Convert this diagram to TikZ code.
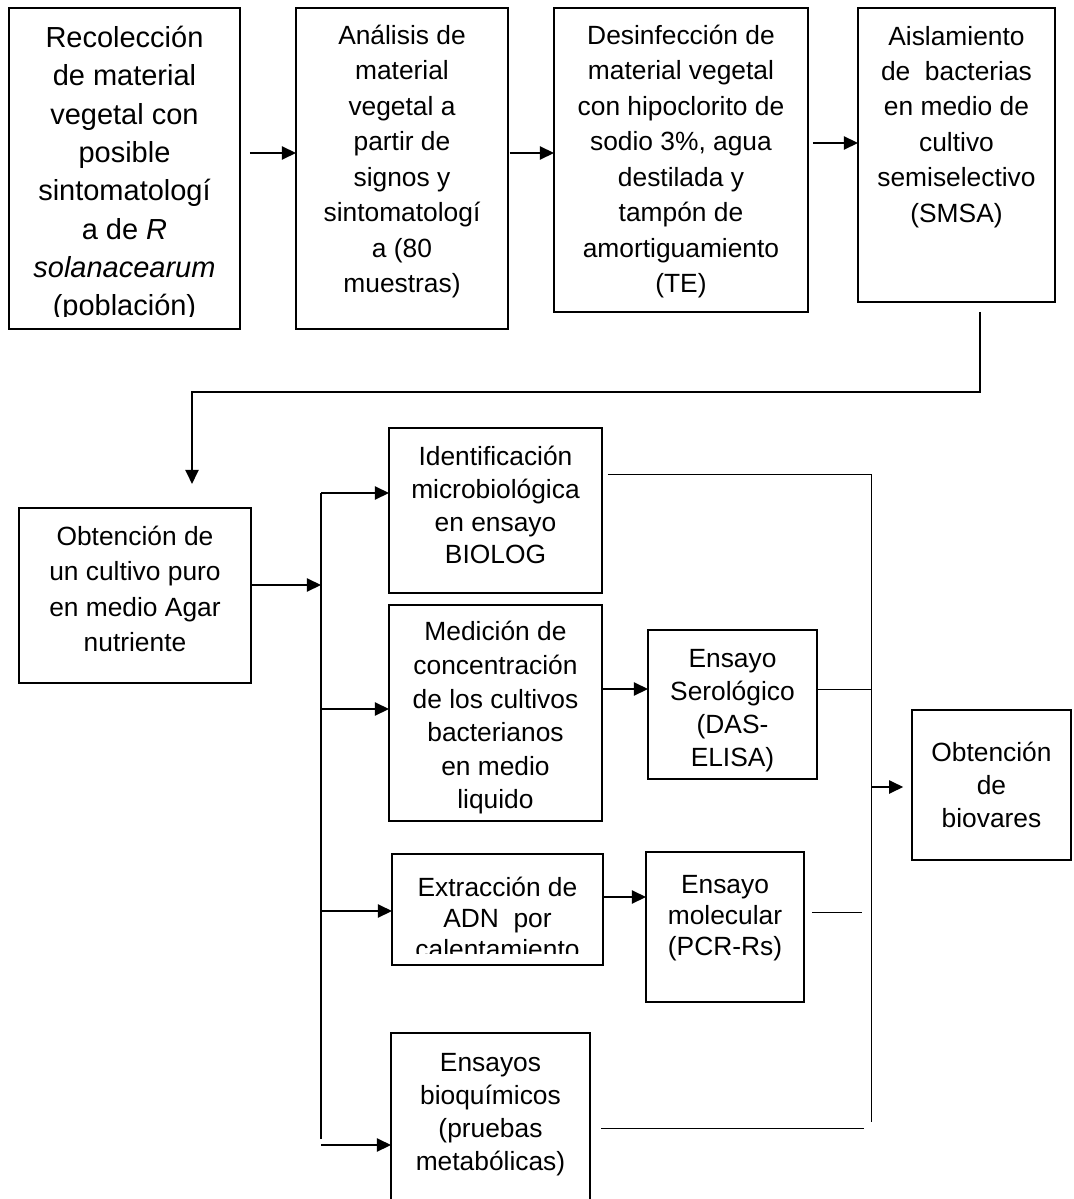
\documentclass[tikz,border=0pt]{standalone}
\usepackage{fontspec}
\setmainfont{Liberation Sans}
\usetikzlibrary{positioning,arrows.meta}

\tikzset{
  box/.style={draw, line width=1.3pt, rectangle, inner sep=0pt, outer sep=0pt, anchor=north west},
  txt/.style={align=center, inner sep=0pt, font=\fontsize{15}{20.2}\selectfont,
    execute at begin node={\rule{0pt}{14.5pt}}},
  txtsm/.style={txt, font=\fontsize{15}{18.7}\selectfont},
  txttight/.style={txt, font=\fontsize{15}{17.6}\selectfont},
  txtbig/.style={txt, font=\fontsize{16.5}{21.8}\selectfont,
    execute at begin node={\rule{0pt}{16pt}}},
  arr/.style={line width=0.85pt, -{Triangle[length=8pt,width=7.5pt]}},
  bus/.style={line width=0.7pt},
  lite/.style={line width=0.55pt},
}

\begin{document}
\begin{tikzpicture}[x=0.02cm, y=-0.02cm]
				\useasboundingbox (0,0) rectangle (1074,1199);
				% cajas
				\begin{scope}[every node/.style={box}]
					\node (b1)[minimum width=4.62cm, minimum height=6.42cm] at (9,8) {};
					\node (b2)[minimum width=4.24cm, minimum height=6.42cm] at (296,8) {};
					\node (b3)[minimum width=5.08cm, minimum height=6.08cm] at (554,8) {};
					\node (b4)[minimum width=3.94cm, minimum height=5.88cm] at (858,8) {};
					\node (b5)[minimum width=4.64cm, minimum height=3.5cm] at (19,508) {};
					\node (b6)[minimum width=4.26cm, minimum height=3.3cm] at (389,428) {};
					\node (b7)[minimum width=4.26cm, minimum height=4.32cm] at (389,605) {};
					\node (b8)[minimum width=4.22cm, minimum height=2.22cm] at (392,854) {};
					\node (b9)[minimum width=3.38cm, minimum height=2.98cm] at (648,630) {};
					\node (b10)[minimum width=3.16cm, minimum height=3cm] at (646,852) {};
					\node (b11)[minimum width=3.98cm, minimum height=4cm] at (391,1033) {};
					\node (b12)[minimum width=3.18cm, minimum height=3cm] at (912,710) {};
				\end{scope}
				% textos
				\begin{scope}
					\clip (b1.north west) rectangle ([yshift=6.8pt]b1.south east);
					\node (t1)[txtbig, below=10.2pt of b1.north] {Recolección\\de material\\vegetal con\\posible\\sintomatologí\\a de \textit{R}\\\textit{solanacearum}\\(población)};
				\end{scope}
				\node (t2)[txt, below=9.3pt of b2.north] {Análisis de\\material\\vegetal a\\partir de\\signos y\\sintomatologí\\a (80\\muestras)};
				\node (t3)[txt, below=9.4pt of b3.north] {Desinfección de\\material vegetal\\con hipoclorito de\\sodio 3\%, agua\\destilada y\\tampón de\\amortiguamiento\\(TE)};
				\node (t4)[txt, below=10pt of b4.north] {Aislamiento\\de\ \ bacterias\\en medio de\\cultivo\\semiselectivo\\(SMSA)};
				\node (t5)[txt, below=10pt of b5.north] {Obtención de\\un cultivo puro\\en medio Agar\\nutriente};
				\node (t6)[txtsm, below=10pt of b6.north] {Identificación\\microbiológica\\en ensayo\\BIOLOG};
				\node (t7)[txtsm, font=\fontsize{15}{19.1}\selectfont, below=9.2pt of b7.north] {Medición de\\concentración\\de los cultivos\\bacterianos\\en medio\\liquido};
				\begin{scope}
					\clip (b8.north west) rectangle ([yshift=6.8pt]b8.south east);
					\node (t8)[txttight, below=12.9pt of b8.north] {Extracción de\\ADN\ \ por\\calentamiento};
				\end{scope}
				\begin{scope}
					\clip (b9.north west) rectangle ([yshift=4pt]b9.south east);
					\node (t9)[txtsm, below=11.1pt of b9.north] {Ensayo\\Serológico\\(DAS-\\ELISA)};
				\end{scope}
				\node (t10)[txttight, below=13.3pt of b10.north] {Ensayo\\molecular\\(PCR-Rs)};
				\node (t11)[txtsm, below=11.6pt of b11.north] {Ensayos\\bioquímicos\\(pruebas\\metabólicas)};
				\node (t12)[txtsm, below=18pt of b12.north] {Obtención\\de\\biovares};
				% conectores
				\coordinate (bt) at (321,493);
				\coordinate (bb) at (321,1139);
				\coordinate (rt) at (871,474);
				\coordinate (rb) at (871,1122);
				\begin{scope}[every edge/.style={draw, arr}]
					\path (b1.east |- 0,153) edge[shorten <=5.7pt] (b2.west |- 0,153);
					\path (b2.east |- 0,153) edge[shorten <=1pt] (b3.west |- 0,153);
					\path (b3.east |- 0,143) edge[shorten <=2.8pt] (b4.west |- 0,143);
					\path (b5.east |- 0,585) edge (bt |- 0,585);
					\path (bt) edge (b6.west |- bt);
					\path (bt |- 0,709) edge (b7.west |- 0,709);
					\path (bt |- 0,911) edge (b8.west |- 0,911);
					\path (bt |- 0,1145) edge (b11.west |- 0,1145);
					\path (b7.east |- 0,689) edge (b9.west |- 0,689);
					\path (b8.east |- 0,897) edge (b10.west |- 0,897);
					\path (rt |- 0,787) edge[shorten >=5pt] (b12.west |- 0,787);
				\end{scope}
				\draw[arr, line width=1.1pt, shorten <=5.7pt, shorten >=13.7pt] (b4.south -| 980,0) -- (980,392) -- (192,392) -- (b5.north -| 192,0);
				\draw[bus] (bt) -- (bb);
				\draw[lite, shorten <=3.4pt] (b6.east |- rt) -- (rt) -- (rb);
				\draw[lite] (b9.east |- 0,689) -- (rt |- 0,689);
				\draw[lite, shorten <=4.5pt, shorten >=5pt] (b10.east |- 0,912) -- (rt |- 0,912);
				\draw[lite, shorten <=6.3pt, shorten >=4pt] (b11.east |- 0,1128) -- (rt |- 0,1128);
			\end{tikzpicture}
\end{document}
